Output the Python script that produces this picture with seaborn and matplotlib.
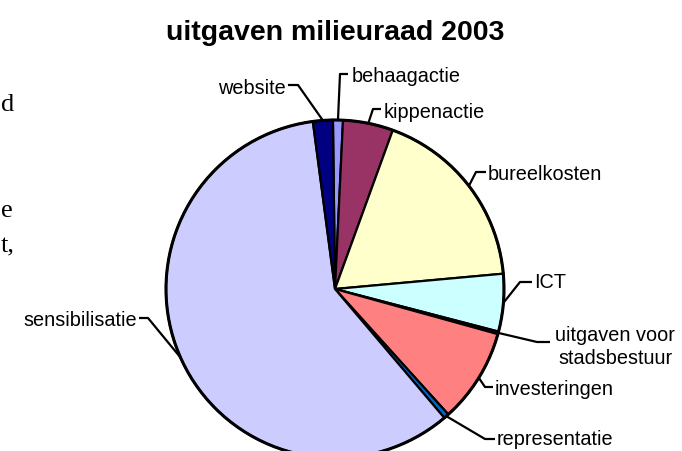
import numpy as np
import matplotlib
matplotlib.use("Agg")
import matplotlib.pyplot as plt
import seaborn as sns

# uitgaven milieuraad 2003 - share per post (%), clockwise from 12 o'clock
posts = ['behaagactie', 'kippenactie', 'bureelkosten', 'ICT',
         'uitgaven voor\nstadsbestuur', 'investeringen', 'representatie',
         'sensibilisatie', 'website']
shares = [0.95, 4.8, 18.0, 5.5, 0.25, 9.0, 0.5, 59.1, 1.9]
colors = ['#9999FF', '#993366', '#FFFFCC', '#CCFFFF', '#660066',
          '#FF8080', '#0066CC', '#CCCCFF', '#000080']

sns.set_theme(style="white")
plt.rcParams['font.family'] = ['Liberation Sans', 'DejaVu Sans']

W, H = 682, 452
fig = plt.figure(figsize=(W / 100, H / 100), dpi=100)
ax = fig.add_axes([0, 0, 1, 1])

# pie placed in pixel coordinates (y up)
cx, cy, R = 335, H - 290, 169
wedges, _ = ax.pie(shares, colors=colors, startangle=90.7, counterclock=False,
                   center=(cx, cy), radius=R,
                   wedgeprops=dict(edgecolor='black', linewidth=1.6))
ax.set_xlim(0, W)
ax.set_ylim(0, H)
ax.set_aspect('equal')
ax.axis('off')

# outer rim
ax.add_patch(plt.Circle((cx, cy), R, fill=False, ec='black', lw=2.2))

# label layout (image pixel coords): text x, text y, ha, elbow, line end
layout = {
    'behaagactie': (352, 76, 'left', (340, 75), (348, 75)),
    'kippenactie': (384, 112, 'left', (373, 110), (381, 110)),
    'bureelkosten': (488, 175, 'left', (476, 173), (486, 173)),
    'ICT': (534, 283, 'left', (520, 283), (532, 283)),
    'uitgaven voor\nstadsbestuur': (615, 347, 'center', (537, 343), (550, 343)),
    'investeringen': (495, 390, 'left', (485, 388), (493, 388)),
    'representatie': (497, 440, 'left', (485, 440), (495, 440)),
    'sensibilisatie': (137, 320, 'right', (148, 319), (139, 319)),
    'website': (286, 88, 'right', (298, 86), (288, 86)),
}

for w, name in zip(wedges, posts):
    mid = np.deg2rad((w.theta1 + w.theta2) / 2)
    rx, ry = cx + R * np.cos(mid), cy + R * np.sin(mid)
    tx, ty, ha, elbow, end = layout[name]
    ax.plot([rx, elbow[0], end[0]], [ry, H - elbow[1], H - end[1]],
            color='black', lw=1.6, solid_capstyle='butt')
    ax.text(tx, H - ty, name, ha=ha, va='center', fontsize=14.3,
            color='black', linespacing=1.25)

# title
ax.text(cx, H - 40, 'uitgaven milieuraad 2003', ha='center', va='baseline',
        fontsize=20.5, fontweight='bold', color='black')

# fragments of the surrounding document text at the left edge
for s, y in [('d', 111), ('e', 217), ('t,', 252)]:
    fig.text(0.5 / W, 1 - y / H, s, ha='left', va='baseline', fontsize=19,
             family=['Liberation Serif', 'DejaVu Serif'], color='black')

fig.savefig('out.png', dpi=100, facecolor='white')
